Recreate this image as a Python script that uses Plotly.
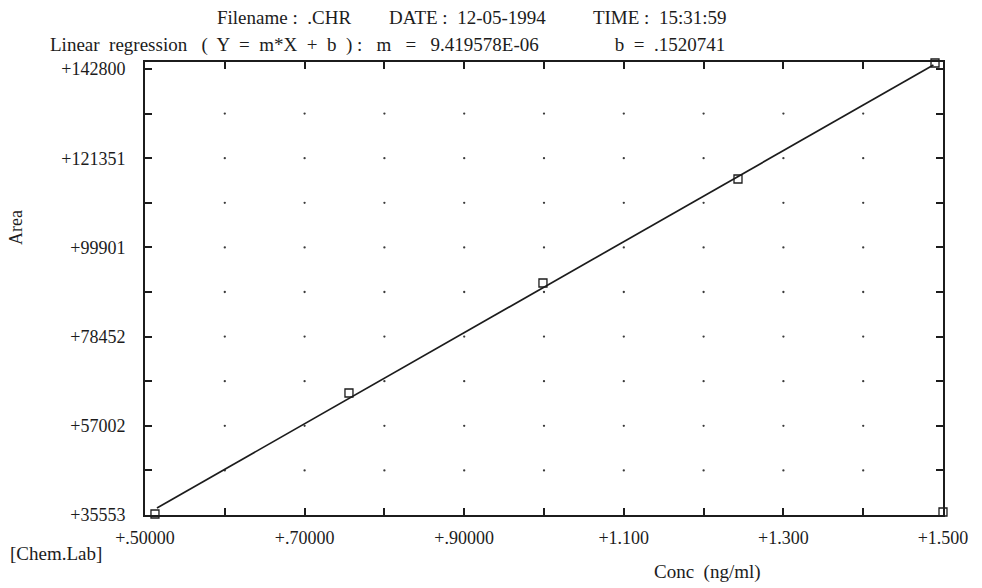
import numpy as np
import plotly.graph_objects as go

# ---- data ----
conc_points = [0.5125, 0.7556, 0.9987, 1.2431, 1.490, 1.500]
area_points = [35793, 64889, 91340, 116348, 144241, 36274]

line_conc = [0.515, 1.488]
line_area = [37240, 143760]

x_tick_vals = [0.5, 0.6, 0.7, 0.8, 0.9, 1.0, 1.1, 1.2, 1.3, 1.4, 1.5]
x_tick_text = ["+.50000", "", "+.70000", "", "+.90000", "", "+1.100", "", "+1.300", "", "+1.500"]

y_tick_vals = [35553, 46277.7, 57002, 67727, 78452, 89176, 99901, 110626, 121351, 132075, 142800]
y_tick_text = ["+35553", "", "+57002", "", "+78452", "", "+99901", "", "+121351", "", "+142800"]

title_line1 = "Filename :  .CHR        DATE :  12-05-1994          TIME :  15:31:59"
title_line2 = "Linear  regression   (  Y  =  m*X  +  b  ) :   m   =   9.419578E-06                b  =  .1520741"

SERIF = "Liberation Serif"
INK = "#1c1c1c"

fig = go.Figure()

# grid dots at interior tick intersections
gx, gy = np.meshgrid(x_tick_vals[1:-1], y_tick_vals[1:-1])
fig.add_trace(go.Scatter(
    x=gx.ravel(), y=gy.ravel(), mode="markers",
    marker=dict(size=2.3, color="#3a3a3a"), hoverinfo="skip", showlegend=False))

# regression line
fig.add_trace(go.Scatter(
    x=line_conc, y=line_area, mode="lines",
    line=dict(color=INK, width=1.7), showlegend=False))

# calibration points
fig.add_trace(go.Scatter(
    x=conc_points, y=area_points, mode="markers",
    marker=dict(symbol="square-open", size=8, color=INK, line=dict(width=1.3)),
    cliponaxis=False, showlegend=False))

axis_common = dict(
    showline=True, linewidth=2, linecolor=INK, mirror="allticks",
    ticks="inside", ticklen=7, tickwidth=1.5, tickcolor=INK,
    showgrid=False, zeroline=False,
    tickfont=dict(family=SERIF, size=18, color=INK),
)

fig.update_xaxes(range=[0.5, 1.5], tickmode="array", tickvals=x_tick_vals,
                 ticktext=x_tick_text, ticklabelstandoff=5, **axis_common)
fig.update_yaxes(range=[35553, 144480], tickmode="array", tickvals=y_tick_vals,
                 ticktext=y_tick_text, ticklabelstandoff=14, **axis_common)

annotations = [
    dict(text=title_line1, x=(215 - 145) / 798, y=(515 - 18) / 453,
         xanchor="left", yanchor="middle", font=dict(family=SERIF, size=19, color=INK)),
    dict(text=title_line2, x=(48 - 145) / 798, y=(515 - 45) / 453,
         xanchor="left", yanchor="middle", font=dict(family=SERIF, size=19, color=INK)),
    dict(text="[Chem.Lab]", x=(8 - 145) / 798, y=(515 - 553) / 453,
         xanchor="left", yanchor="middle", font=dict(family=SERIF, size=19, color=INK)),
    dict(text="Conc  (ng/ml)", x=(763 - 145) / 798, y=(515 - 572) / 453,
         xanchor="right", yanchor="middle", font=dict(family=SERIF, size=19, color=INK)),
    dict(text="Area", x=(16 - 145) / 798, y=(515 - 228) / 453, textangle=-90,
         xanchor="center", yanchor="middle", font=dict(family=SERIF, size=18, color=INK)),
]
for a in annotations:
    a.update(xref="paper", yref="paper", showarrow=False)

fig.update_layout(
    width=982, height=588,
    margin=dict(l=145, r=39, t=62, b=73),
    paper_bgcolor="white", plot_bgcolor="white",
    annotations=annotations,
    showlegend=False,
)

fig.write_html("out.html", config={"displayModeBar": False},
               post_script="document.body.style.margin='0';")
